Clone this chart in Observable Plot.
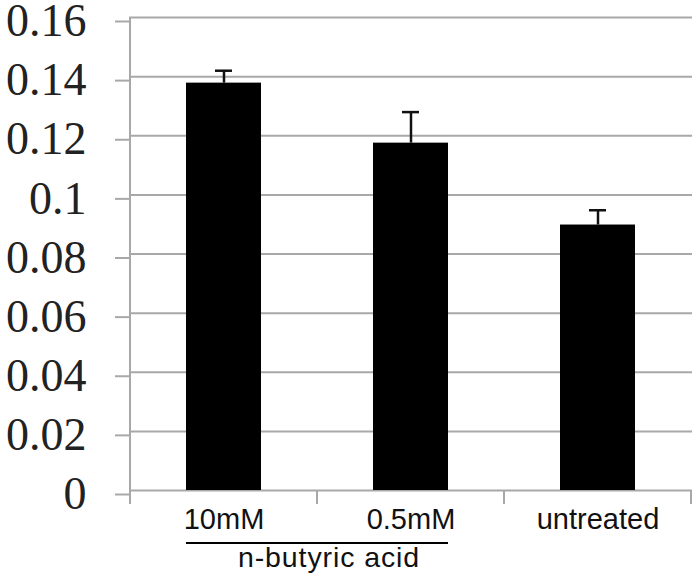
<!DOCTYPE html>
<html><head><meta charset="utf-8">
<script src="https://cdn.jsdelivr.net/npm/d3@7"></script>
<script src="https://cdn.jsdelivr.net/npm/@observablehq/plot@0.6"></script>
<style>body{margin:0;background:#fff}</style>
</head><body><div id="chart"></div>
<script>
const categories = ["10mM", "0.5mM", "untreated"];
const values = [0.1378, 0.1175, 0.0898];
const errors = [0.0042, 0.0105, 0.005];
const yTicks = [0, 0.02, 0.04, 0.06, 0.08, 0.1, 0.12, 0.14, 0.16];
const yTickLabels = ["0", "0.02", "0.04", "0.06", "0.08", "0.1", "0.12", "0.14", "0.16"];
const groupLabel = "n-butyric acid";
const groupMembers = ["10mM", "0.5mM"];

const data = categories.map((c, i) => ({category: c, value: values[i], top: values[i] + errors[i]}));
const gridColor = "#a8a8a8";
const sans = "'Liberation Sans', Arial, Helvetica, sans-serif";
const serif = "'Liberation Serif', 'Times New Roman', Times, serif";

function decorations(index, scales, values, dimensions) {
  const x = scales.x, y = scales.y;
  const step = x.step(), bw = x.bandwidth();
  const off = (step - bw) / 2;
  const y0 = y(0);
  const g = d3.create("svg:g");
  const b0 = x(categories[0]) - off;
  // vertical axis line
  g.append("line").attr("x1", b0).attr("x2", b0)
    .attr("y1", y(yTicks[yTicks.length - 1])).attr("y2", y0 + 14)
    .attr("stroke", gridColor).attr("stroke-width", 2);
  // category boundary ticks
  categories.forEach((c) => {
    const bx = x(c) + bw + off;
    g.append("line").attr("x1", bx).attr("x2", bx).attr("y1", y0).attr("y2", y0 + 14)
      .attr("stroke", gridColor).attr("stroke-width", 2);
  });
  // group bracket
  const gx1 = x(groupMembers[0]);
  const gx2 = x(groupMembers[groupMembers.length - 1]) + bw;
  g.append("line").attr("x1", gx1).attr("x2", gx2).attr("y1", y0 + 53).attr("y2", y0 + 53)
    .attr("stroke", "#000").attr("stroke-width", 2);
  g.append("text").attr("x", (gx1 + gx2) / 2 + 12).attr("y", y0 + 77)
    .attr("text-anchor", "middle").attr("font-family", sans).attr("font-size", 28.5)
    .attr("letter-spacing", 0.9)
    .attr("fill", "#111").text(groupLabel);
  return g.node();
}

const chart = Plot.plot({
  width: 700,
  height: 579,
  marginLeft: 129,
  marginRight: 8,
  marginTop: 17,
  marginBottom: 89,
  style: {background: "#fff", fontFamily: sans},
  x: {domain: categories, paddingInner: 0.6, paddingOuter: 0.3, label: null, axis: null},
  y: {domain: [0, 0.16], label: null, axis: null},
  marks: [
    Plot.gridY(yTicks, {stroke: gridColor, strokeOpacity: 1, strokeWidth: 2}),
    Plot.axisY(yTicks, {
      tickSize: 14, tickPadding: 29, stroke: gridColor, strokeWidth: 2,
      fontSize: 46, fontFamily: serif, fill: "#222", dy: 4,
      tickFormat: d => yTickLabels[yTicks.indexOf(d)], label: null
    }),
    Plot.axisX({tickSize: 0, tickPadding: 18, fontSize: 29, fontFamily: sans, fill: "#111", label: null, letterSpacing: 1.3}),
    Plot.barY(data, {x: "category", y: "value", fill: "#000"}),
    Plot.ruleX(data, {x: "category", y1: "value", y2: "top", stroke: "#111", strokeWidth: 2.5}),
    Plot.tickY(data, {x: "category", y: "top", stroke: "#111", strokeWidth: 2.5, insetLeft: 29, insetRight: 29}),
    decorations
  ]
});
document.getElementById("chart").appendChild(chart);
</script>
</body></html>
